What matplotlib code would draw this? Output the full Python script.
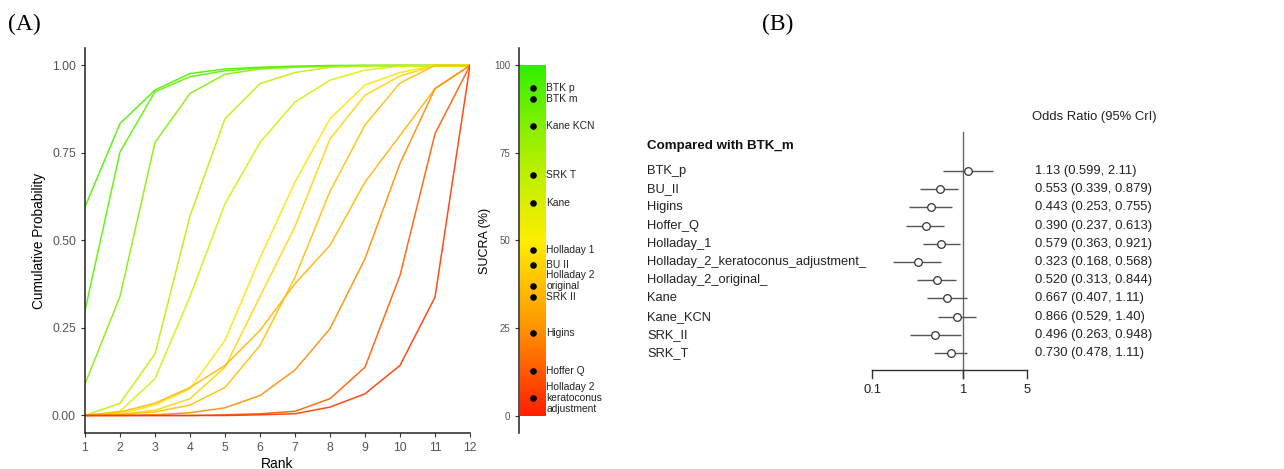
import numpy as np
import matplotlib
matplotlib.use('Agg')
import matplotlib.pyplot as plt
from matplotlib.colors import LinearSegmentedColormap
from matplotlib.transforms import blended_transform_factory

plt.rcParams['font.family'] = ['Liberation Sans', 'DejaVu Sans']

# ---- panel A data: cumulative rank probabilities ----
ranks = np.arange(1, 13)
treatments = ['BTK p', 'BTK m', 'Kane KCN', 'SRK T', 'Kane', 'Holladay 1', 'BU II',
              'Holladay 2\noriginal\n ', 'SRK II', 'Higins', 'Hoffer Q',
              'Holladay 2\nkeratoconus\nadjustment']
cum_btk_p = [0.596, 0.834, 0.930, 0.977, 0.990, 0.995, 0.998, 1.0, 1.0, 1.0, 1.0, 1.0]
cum_btk_m = [0.300, 0.753, 0.925, 0.968, 0.985, 0.993, 0.997, 0.999, 1.0, 1.0, 1.0, 1.0]
cum_kane_kcn = [0.090, 0.340, 0.780, 0.920, 0.975, 0.990, 0.995, 0.998, 1.0, 1.0, 1.0, 1.0]
cum_srk_t = [0.0, 0.035, 0.176, 0.570, 0.848, 0.948, 0.980, 0.995, 0.999, 1.0, 1.0, 1.0]
cum_kane = [0.0, 0.012, 0.105, 0.340, 0.605, 0.780, 0.896, 0.958, 0.987, 0.998, 1.0, 1.0]
cum_holladay_1 = [0.0, 0.005, 0.030, 0.076, 0.215, 0.450, 0.667, 0.848, 0.944, 0.980, 1.0, 1.0]
cum_bu_ii = [0.0, 0.003, 0.015, 0.048, 0.138, 0.340, 0.540, 0.790, 0.915, 0.970, 1.0, 1.0]
cum_holladay_2_orig = [0.0, 0.003, 0.010, 0.030, 0.080, 0.200, 0.395, 0.640, 0.830, 0.950, 1.0, 1.0]
cum_srk_ii = [0.0, 0.010, 0.035, 0.080, 0.143, 0.243, 0.377, 0.486, 0.667, 0.800, 0.934, 1.0]
cum_higins = [0.0, 0.0, 0.002, 0.008, 0.022, 0.057, 0.130, 0.248, 0.448, 0.720, 0.934, 1.0]
cum_hoffer_q = [0.0, 0.0, 0.0, 0.0, 0.002, 0.005, 0.012, 0.048, 0.138, 0.400, 0.805, 1.0]
cum_holladay_2_kc = [0.0, 0.0, 0.0, 0.0, 0.0, 0.002, 0.005, 0.024, 0.062, 0.143, 0.338, 1.0]
cum_all = [cum_btk_p, cum_btk_m, cum_kane_kcn, cum_srk_t, cum_kane, cum_holladay_1, cum_bu_ii,
           cum_holladay_2_orig, cum_srk_ii, cum_higins, cum_hoffer_q, cum_holladay_2_kc]
sucra = [93.5, 90.3, 82.6, 68.8, 60.7, 47.3, 43.0, 37.1, 34.0, 23.5, 12.9, 5.2]

# ---- panel B data: odds ratios vs BTK_m ----
or_labels = ['BTK_p', 'BU_II', 'Higins', 'Hoffer_Q', 'Holladay_1',
             'Holladay_2_keratoconus_adjustment_', 'Holladay_2_original_', 'Kane',
             'Kane_KCN', 'SRK_II', 'SRK_T']
or_est = [1.13, 0.553, 0.443, 0.390, 0.579, 0.323, 0.520, 0.667, 0.866, 0.496, 0.730]
or_lo = [0.599, 0.339, 0.253, 0.237, 0.363, 0.168, 0.313, 0.407, 0.529, 0.263, 0.478]
or_hi = [2.11, 0.879, 0.755, 0.613, 0.921, 0.568, 0.844, 1.11, 1.40, 0.948, 1.11]
or_text = ['1.13', '0.553', '0.443', '0.390', '0.579', '0.323', '0.520', '0.667', '0.866', '0.496', '0.730']
lo_text = ['0.599', '0.339', '0.253', '0.237', '0.363', '0.168', '0.313', '0.407', '0.529', '0.263', '0.478']
hi_text = ['2.11', '0.879', '0.755', '0.613', '0.921', '0.568', '0.844', '1.11', '1.40', '0.948', '1.11']
or_ticks = [0.1, 1, 5]

cmap = LinearSegmentedColormap.from_list(
    'ryg', [(0, '#ff1e00'), (0.25, '#ff9400'), (0.5, '#ffee00'), (0.75, '#a8f000'), (1, '#30f000')])

W, H = 1284, 469
fig = plt.figure(figsize=(W / 100, H / 100), dpi=100)

def px_axes(x0, y0, x1, y1):
    return fig.add_axes([x0 / W, 1 - y1 / H, (x1 - x0) / W, (y1 - y0) / H])

grey = '#555555'

# ---- panel A ----
ax = px_axes(85, 48, 470, 433)
for c, s in zip(cum_all, sucra):
    ax.plot(ranks, c, color=cmap(s / 100), lw=1.1, alpha=0.9)
ax.set_xlim(1, 12)
ax.set_ylim(-0.05, 1.05)
ax.set_xticks(ranks)
ax.set_yticks([0, 0.25, 0.5, 0.75, 1.0])
ax.set_yticklabels(['0.00', '0.25', '0.50', '0.75', '1.00'])
ax.tick_params(labelsize=8.8, colors='#333333', labelcolor=grey, length=3, width=0.8)
for sp in ['top', 'right']:
    ax.spines[sp].set_visible(False)
for sp in ['left', 'bottom']:
    ax.spines[sp].set_color('#222222')
    ax.spines[sp].set_linewidth(1.1)
ax.set_xlabel('Rank', fontsize=10, labelpad=2)
ax.set_ylabel('Cumulative Probability', fontsize=9.8, labelpad=4)

# ---- SUCRA bar ----
axs = px_axes(519, 48, 640, 433)
axs.set_xlim(0, 121)
axs.set_ylim(-4.86, 104.86)
grad = np.linspace(0, 1, 256).reshape(-1, 1)
axs.imshow(grad, cmap=cmap, origin='lower', extent=(1, 27, 0, 100), aspect='auto')
axs.scatter([14] * len(sucra), sucra, s=14, color='black', zorder=3)
for name, s in zip(treatments, sucra):
    axs.text(27.5, s, name, fontsize=7.4, va='center', ha='left', color='#222222',
             linespacing=1.15)
axs.set_yticks([0, 25, 50, 75, 100])
axs.set_xticks([])
axs.tick_params(labelsize=7, colors='#333333', labelcolor=grey, length=3, width=0.8)
for sp in ['top', 'right', 'bottom']:
    axs.spines[sp].set_visible(False)
axs.spines['left'].set_color('#222222')
axs.spines['left'].set_linewidth(1.1)
axs.set_ylabel('SUCRA (%)', fontsize=9, labelpad=2)

# ---- panel B: forest plot ----
axf = px_axes(640, 0, 1284, 469)
axf.set_xscale('log')
axf.set_xlim(10 ** ((640 - 963) / 91), 10 ** ((1284 - 963) / 91))
axf.set_ylim((469 - 171) / 18.2, -171 / 18.2)
axf.axis('off')
rows = np.arange(len(or_labels))
axf.hlines(rows, or_lo, or_hi, color='#555555', lw=1.0)
axf.plot(or_est, rows, 'o', ms=5.5, mfc='white', mec='#333333', mew=0.9, zorder=3)
axf.plot([1, 1], [-2.14, 11.4], color='#666666', lw=1.0, zorder=1)
axf.plot([or_ticks[0], or_ticks[-1]], [10.96, 10.96], color='#333333', lw=1.0)
for t in or_ticks:
    axf.plot([t, t], [10.96, 11.4], color='#333333', lw=1.0)
    axf.text(t, 12.05, str(t), ha='center', va='center', fontsize=9.4, color='#222222')

tr = blended_transform_factory(fig.transFigure, axf.transData)
axf.text(647 / W, -1.37, 'Compared with BTK_m', transform=tr, fontsize=9.6,
         fontweight='bold', va='center', color='#111111')
axf.text(1032 / W, -2.97, 'Odds Ratio (95% CrI)', transform=tr, fontsize=9.4,
         va='center', color='#222222')
for i, lab in enumerate(or_labels):
    axf.text(647 / W, i, lab, transform=tr, fontsize=9.3, va='center', color='#222222')
    axf.text(1035 / W, i, f'{or_text[i]} ({lo_text[i]}, {hi_text[i]})', transform=tr,
             fontsize=9.4, va='center', color='#222222')

# panel letters
fig.text(8 / W, 1 - 24 / H, '(A)', fontsize=17, family='Liberation Serif', va='center')
fig.text(762 / W, 1 - 24 / H, '(B)', fontsize=17, family='Liberation Serif', va='center')

fig.savefig('out.png', dpi=100, facecolor='white')
